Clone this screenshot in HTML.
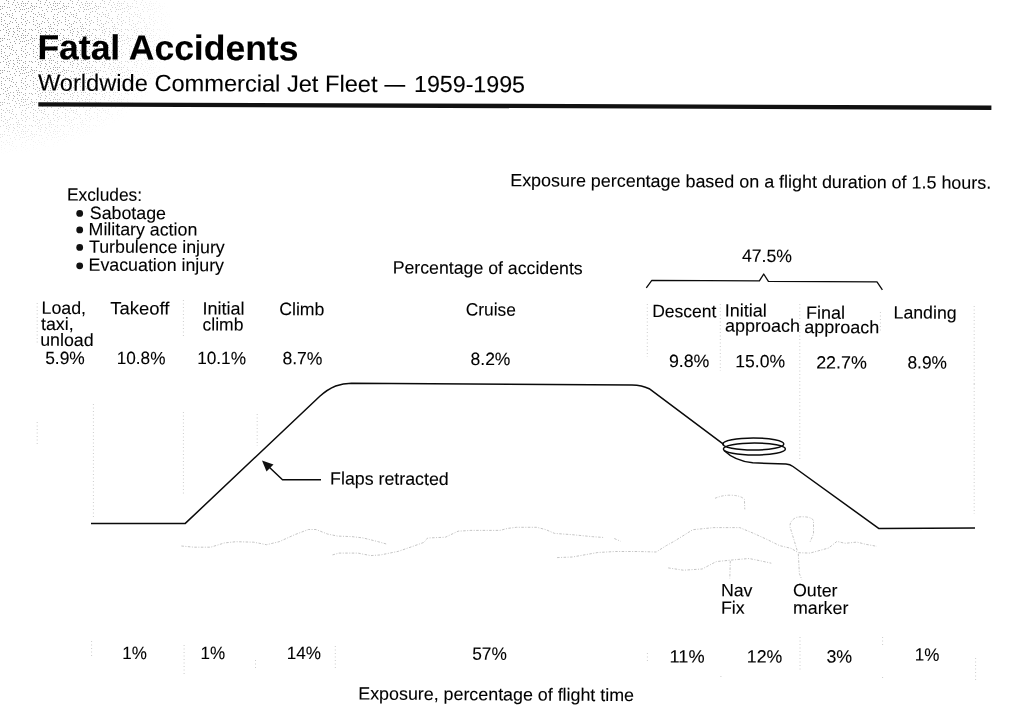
<!DOCTYPE html>
<html lang="en"><head><meta charset="utf-8"><title>Fatal Accidents</title>
<style>
html,body{margin:0;padding:0;background:#fff;}
body{width:1024px;height:726px;overflow:hidden;position:relative;}
svg{position:absolute;left:0;top:0;display:block;}
text{font-family:"Liberation Sans",Arial,Helvetica,sans-serif;fill:#000;stroke:#000;stroke-width:0.1;}
.ln{fill:none;stroke:#0a0a0a;stroke-width:1.5;stroke-linejoin:round;stroke-linecap:butt;}
.dot{fill:none;stroke:#cccccc;stroke-width:1;stroke-dasharray:1 2.5;}
.ter{fill:none;stroke:#bdbdbd;stroke-width:0.9;stroke-dasharray:2.5 1.5 1 1.5;stroke-linejoin:round;}
</style></head><body>
<svg width="1024" height="726" viewBox="0 0 1024 726">
<defs>
<pattern id="dith" width="32" height="32" patternUnits="userSpaceOnUse"><g fill="#9a9a9a"><rect x="20" y="9" width="1" height="1"/><rect x="25" y="3" width="1" height="1"/><rect x="4" y="6" width="1" height="1"/><rect x="23" y="3" width="1" height="1"/><rect x="13" y="2" width="1" height="1"/><rect x="5" y="27" width="1" height="1"/><rect x="15" y="5" width="1" height="1"/><rect x="27" y="3" width="1" height="1"/><rect x="7" y="14" width="1" height="1"/><rect x="3" y="25" width="1" height="1"/><rect x="3" y="14" width="1" height="1"/><rect x="2" y="8" width="1" height="1"/><rect x="18" y="26" width="1" height="1"/><rect x="9" y="7" width="1" height="1"/><rect x="19" y="11" width="1" height="1"/><rect x="6" y="12" width="1" height="1"/><rect x="23" y="6" width="1" height="1"/><rect x="4" y="3" width="1" height="1"/><rect x="13" y="31" width="1" height="1"/><rect x="27" y="20" width="1" height="1"/><rect x="29" y="29" width="1" height="1"/><rect x="23" y="19" width="1" height="1"/><rect x="15" y="11" width="1" height="1"/><rect x="19" y="31" width="1" height="1"/><rect x="21" y="28" width="1" height="1"/><rect x="18" y="4" width="1" height="1"/><rect x="7" y="26" width="1" height="1"/><rect x="10" y="21" width="1" height="1"/><rect x="9" y="31" width="1" height="1"/><rect x="4" y="20" width="1" height="1"/><rect x="21" y="22" width="1" height="1"/><rect x="31" y="29" width="1" height="1"/><rect x="17" y="30" width="1" height="1"/><rect x="19" y="28" width="1" height="1"/><rect x="18" y="24" width="1" height="1"/><rect x="22" y="1" width="1" height="1"/><rect x="29" y="22" width="1" height="1"/><rect x="31" y="3" width="1" height="1"/><rect x="13" y="18" width="1" height="1"/><rect x="25" y="25" width="1" height="1"/><rect x="31" y="5" width="1" height="1"/><rect x="10" y="28" width="1" height="1"/><rect x="25" y="17" width="1" height="1"/><rect x="22" y="24" width="1" height="1"/><rect x="14" y="9" width="1" height="1"/><rect x="9" y="14" width="1" height="1"/><rect x="14" y="0" width="1" height="1"/><rect x="31" y="11" width="1" height="1"/><rect x="16" y="18" width="1" height="1"/><rect x="0" y="9" width="1" height="1"/><rect x="26" y="23" width="1" height="1"/><rect x="3" y="29" width="1" height="1"/><rect x="6" y="30" width="1" height="1"/><rect x="12" y="4" width="1" height="1"/><rect x="13" y="28" width="1" height="1"/><rect x="21" y="3" width="1" height="1"/><rect x="6" y="0" width="1" height="1"/><rect x="24" y="9" width="1" height="1"/><rect x="16" y="22" width="1" height="1"/><rect x="23" y="30" width="1" height="1"/><rect x="7" y="7" width="1" height="1"/><rect x="21" y="16" width="1" height="1"/><rect x="1" y="13" width="1" height="1"/><rect x="1" y="19" width="1" height="1"/><rect x="5" y="16" width="1" height="1"/><rect x="22" y="14" width="1" height="1"/><rect x="12" y="15" width="1" height="1"/><rect x="25" y="14" width="1" height="1"/><rect x="1" y="17" width="1" height="1"/><rect x="30" y="16" width="1" height="1"/><rect x="12" y="22" width="1" height="1"/><rect x="0" y="30" width="1" height="1"/><rect x="7" y="24" width="1" height="1"/><rect x="21" y="5" width="1" height="1"/><rect x="25" y="29" width="1" height="1"/><rect x="25" y="5" width="1" height="1"/><rect x="10" y="10" width="1" height="1"/><rect x="8" y="1" width="1" height="1"/><rect x="22" y="9" width="1" height="1"/><rect x="0" y="6" width="1" height="1"/><rect x="12" y="13" width="1" height="1"/><rect x="15" y="20" width="1" height="1"/><rect x="16" y="26" width="1" height="1"/><rect x="8" y="3" width="1" height="1"/><rect x="26" y="8" width="1" height="1"/><rect x="28" y="11" width="1" height="1"/><rect x="30" y="7" width="1" height="1"/><rect x="2" y="6" width="1" height="1"/><rect x="28" y="1" width="1" height="1"/><rect x="17" y="28" width="1" height="1"/><rect x="28" y="8" width="1" height="1"/><rect x="19" y="7" width="1" height="1"/><rect x="9" y="23" width="1" height="1"/><rect x="9" y="16" width="1" height="1"/><rect x="8" y="29" width="1" height="1"/><rect x="25" y="31" width="1" height="1"/><rect x="25" y="21" width="1" height="1"/><rect x="26" y="12" width="1" height="1"/><rect x="5" y="23" width="1" height="1"/><rect x="1" y="21" width="1" height="1"/><rect x="1" y="24" width="1" height="1"/><rect x="21" y="18" width="1" height="1"/><rect x="17" y="2" width="1" height="1"/><rect x="11" y="17" width="1" height="1"/><rect x="16" y="7" width="1" height="1"/></g></pattern>
<radialGradient id="fade" cx="0" cy="0" r="1" gradientUnits="userSpaceOnUse" gradientTransform="translate(-10 35) scale(185 120)">
<stop offset="0" stop-color="#fff"/><stop offset="0.45" stop-color="#ddd"/><stop offset="0.8" stop-color="#555"/><stop offset="1" stop-color="#000"/>
</radialGradient>
<mask id="fm" maskUnits="userSpaceOnUse" x="0" y="0" width="220" height="170"><rect x="0" y="0" width="220" height="170" fill="url(#fade)"/></mask>
</defs>
<rect x="0" y="0" width="220" height="170" fill="url(#dith)" mask="url(#fm)"/>

<polygon points="38.3,102.2 991.4,105.5 991.4,109.9 38.3,106.4" fill="#111"/>
<circle cx="79.7" cy="213.4" r="3.4" fill="#111"/>
<circle cx="79.7" cy="229.9" r="3.4" fill="#111"/>
<circle cx="79.7" cy="247.4" r="3.4" fill="#111"/>
<circle cx="79.7" cy="265.8" r="3.4" fill="#111"/>
<line class="dot" x1="37.2" y1="303" x2="37.2" y2="345"/>
<line class="dot" x1="37.2" y1="422" x2="37.2" y2="444"/>
<line class="dot" x1="93.4" y1="404" x2="93.4" y2="518"/>
<line class="dot" x1="183.4" y1="300" x2="183.4" y2="336"/>
<line class="dot" x1="183.4" y1="412" x2="183.4" y2="495"/>
<line class="dot" x1="257.2" y1="414" x2="257.2" y2="446"/>
<line class="dot" x1="647.3" y1="304" x2="647.3" y2="357"/>
<line class="dot" x1="720.3" y1="304" x2="720.3" y2="371"/>
<line class="dot" x1="799.8" y1="304" x2="799.8" y2="460"/>
<line class="dot" x1="880.4" y1="312" x2="880.4" y2="333"/>
<line class="dot" x1="974.2" y1="306" x2="974.2" y2="384"/>
<line class="dot" x1="974.2" y1="384" x2="974.2" y2="514"/>
<line class="dot" x1="91.6" y1="641" x2="91.6" y2="656"/>
<line class="dot" x1="184.1" y1="645" x2="184.1" y2="676"/>
<line class="dot" x1="255.5" y1="660" x2="255.5" y2="670"/>
<line class="dot" x1="335.3" y1="646" x2="335.3" y2="669"/>
<line class="dot" x1="647.4" y1="653" x2="647.4" y2="663"/>
<line class="dot" x1="720.9" y1="676" x2="720.9" y2="679"/>
<line class="dot" x1="800" y1="637" x2="800" y2="672"/>
<line class="dot" x1="882.6" y1="637" x2="882.6" y2="646"/>
<line class="dot" x1="882.6" y1="677" x2="882.6" y2="680"/>
<line class="dot" x1="975.6" y1="658" x2="975.6" y2="681"/>
<path class="ter" d="M181.4 546 L194.1 547.2 L210.6 547.2 L224.6 542.9 L236 541.7 L253.8 542.2 L266.5 544.7 L279.2 541.7 L294.4 534.8 L308.4 529.5 L316 529.5 L327.4 534 L337.6 536.1 L351.6 536.6 L363 537.9 L378.2 541.7 L387.1 544.2"/>
<path class="ter" d="M332.5 554.9 L338.9 553.1 L357.9 553.1 L370.6 555.6 L380.8 554.9 L398.5 551.3 L413.8 546 L423.9 542.4 L427.6 538 L445.4 537.2 L458.1 531.2 L470.8 530.4 L500 530.4 L507.6 528.4 L516.5 527.3 L536.8 527.3 L545.7 529.6 L554.6 533.4 L572.4 534.7 L592.7 536.7 L604.1 537.5"/>
<path class="ter" d="M614.3 538.5 L620.6 541.3"/>
<path class="ter" d="M557.1 557.6 L572.4 557 L597.8 552.5 L615.5 551.5 L638.4 551.5 L656.2 552 L666.3 545.6 L674 541.4 L692.8 529.7 L713.9 527.6 L739.7 527.6 L753.7 533.4 L767.8 539.8 L779.5 545.6 L791.2 548.4 L798.3 552.7 L810 553.1 L828.7 548 L836.9 541.4 L845.1 543.3 L856.9 542.1 L866.2 544.4 L876.8 546.3"/>
<path class="ter" d="M668.2 567.9 L683.4 570.2 L702.2 569 L716.2 561.6 L735 559.7 L749 558.5 L760.8 560.9 L771.3 563.2"/>
<path class="ter" d="M715 498.3 Q722 495.2 730 495.2 Q740 495.2 744.4 499.2 L744.8 509.3"/>
<path class="ter" d="M730.3 560.9 L729.8 578.4"/>
<path class="ter" d="M798.3 553.8 L799.4 573.7 L801.8 579.6"/>
<path class="ter" d="M797.1 550.3 L793.6 538.6 L790 526.9 Q789.5 521 796 517.5 Q801 516.3 806.5 517 Q813 518 813.5 521 L813.5 533.9 L810 542.1"/>
<path class="ln" d="M91 523.4 L185.3 523.4 L319.8 396.3 Q327.5 389.3 335.7 386 Q343 383.4 351.5 383.2 L632 385 Q642 385.3 649.2 388.7 L724 444.6"/>
<ellipse class="ln" cx="753.3" cy="444" rx="30.5" ry="6"/>
<ellipse class="ln" cx="754.4" cy="449" rx="31" ry="6"/>
<path class="ln" d="M724 450.5 Q735 461 752.7 462.8 L786 464 Q790 464.3 793 466.5 L879 528.6 L975 528"/>
<path class="ln" d="M321 479.7 L282.5 479.7 L268 466"/>
<polygon points="262,460.6 273.5,464.5 266.5,471.5" fill="#111"/>
<path class="ln" style="stroke-width:1.3" d="M646.3 287.8 L651.8 280.4 L759.4 280.8 L763.7 274 L768.4 281.3 L877 281.8 L882.4 289.8"/>
<text x="37.4" y="59.2" font-size="35" font-weight="bold" textLength="261" lengthAdjust="spacingAndGlyphs" transform="rotate(0.23 37.4 59.2)">Fatal Accidents</text>
<text x="38" y="90.6" font-size="23.4" textLength="339.5" lengthAdjust="spacingAndGlyphs" transform="rotate(0.23 38 90.6)">Worldwide Commercial Jet Fleet</text>
<text x="384.6" y="91.8" font-size="23.4" textLength="20.6" lengthAdjust="spacingAndGlyphs" transform="rotate(0.23 384.6 91.8)">—</text>
<text x="414" y="92.0" font-size="23.4" textLength="111" lengthAdjust="spacingAndGlyphs" transform="rotate(0.23 414 92.0)">1959-1995</text>
<text x="510.2" y="186.2" font-size="17.8" textLength="481" lengthAdjust="spacingAndGlyphs" transform="rotate(0.32 510.2 186.2)">Exposure percentage based on a flight duration of 1.5 hours.</text>
<text x="67" y="200.6" font-size="17.8" textLength="75" lengthAdjust="spacingAndGlyphs" transform="rotate(0.23 67 200.6)">Excludes:</text>
<text x="89.8" y="218.9" font-size="17.8" transform="rotate(0.23 89.8 218.9)">Sabotage</text>
<text x="88.6" y="235.2" font-size="17.8" transform="rotate(0.23 88.6 235.2)">Military action</text>
<text x="89" y="252.7" font-size="17.8" transform="rotate(0.23 89 252.7)">Turbulence injury</text>
<text x="88.6" y="270.7" font-size="17.8" transform="rotate(0.23 88.6 270.7)">Evacuation injury</text>
<text x="392.7" y="273.5" font-size="17.8" textLength="190" lengthAdjust="spacingAndGlyphs" transform="rotate(0.23 392.7 273.5)">Percentage of accidents</text>
<text x="742" y="261.8" font-size="17.8" textLength="50" lengthAdjust="spacingAndGlyphs" transform="rotate(0.23 742 261.8)">47.5%</text>
<text x="41.5" y="313.8" font-size="17.8" transform="rotate(0.23 41.5 313.8)">Load,</text>
<text x="41" y="330.0" font-size="17.8" transform="rotate(0.23 41 330.0)">taxi,</text>
<text x="40.2" y="345.8" font-size="17.8" transform="rotate(0.23 40.2 345.8)">unload</text>
<text x="110.3" y="314.3" font-size="17.8" textLength="59" lengthAdjust="spacingAndGlyphs" transform="rotate(0.23 110.3 314.3)">Takeoff</text>
<text x="202.4" y="314.5" font-size="17.8" textLength="42" lengthAdjust="spacingAndGlyphs" transform="rotate(0.23 202.4 314.5)">Initial</text>
<text x="202.6" y="330.5" font-size="17.8" textLength="40.8" lengthAdjust="spacingAndGlyphs" transform="rotate(0.23 202.6 330.5)">climb</text>
<text x="279.2" y="315.1" font-size="17.8" textLength="45.2" lengthAdjust="spacingAndGlyphs" transform="rotate(0.23 279.2 315.1)">Climb</text>
<text x="465.8" y="315.5" font-size="17.8" textLength="50" lengthAdjust="spacingAndGlyphs" transform="rotate(0.23 465.8 315.5)">Cruise</text>
<text x="652.2" y="317.1" font-size="17.8" textLength="64.3" lengthAdjust="spacingAndGlyphs" transform="rotate(0.23 652.2 317.1)">Descent</text>
<text x="724.7" y="316.5" font-size="17.8" textLength="42" lengthAdjust="spacingAndGlyphs" transform="rotate(0.23 724.7 316.5)">Initial</text>
<text x="725.0" y="331.6" font-size="17.8" textLength="75" lengthAdjust="spacingAndGlyphs" transform="rotate(0.23 725.0 331.6)">approach</text>
<text x="806" y="318.7" font-size="17.8" textLength="39" lengthAdjust="spacingAndGlyphs" transform="rotate(0.23 806 318.7)">Final</text>
<text x="804.2" y="333" font-size="17.8" textLength="75" lengthAdjust="spacingAndGlyphs" transform="rotate(0.23 804.2 333)">approach</text>
<text x="893.6" y="318.5" font-size="17.8" textLength="63" lengthAdjust="spacingAndGlyphs" transform="rotate(0.23 893.6 318.5)">Landing</text>
<text x="45.2" y="364" font-size="17.8" textLength="39.6" lengthAdjust="spacingAndGlyphs" transform="rotate(0.23 45.2 364)">5.9%</text>
<text x="116.8" y="364" font-size="17.8" textLength="48.6" lengthAdjust="spacingAndGlyphs" transform="rotate(0.23 116.8 364)">10.8%</text>
<text x="197.2" y="364" font-size="17.8" textLength="48.8" lengthAdjust="spacingAndGlyphs" transform="rotate(0.23 197.2 364)">10.1%</text>
<text x="282.4" y="364.3" font-size="17.8" textLength="40" lengthAdjust="spacingAndGlyphs" transform="rotate(0.23 282.4 364.3)">8.7%</text>
<text x="470.6" y="365" font-size="17.8" textLength="39.8" lengthAdjust="spacingAndGlyphs" transform="rotate(0.23 470.6 365)">8.2%</text>
<text x="668.9" y="366.9" font-size="17.8" textLength="40.4" lengthAdjust="spacingAndGlyphs" transform="rotate(0.23 668.9 366.9)">9.8%</text>
<text x="735.3" y="367.2" font-size="17.8" textLength="49.7" lengthAdjust="spacingAndGlyphs" transform="rotate(0.23 735.3 367.2)">15.0%</text>
<text x="816.2" y="368.4" font-size="17.8" textLength="50.6" lengthAdjust="spacingAndGlyphs" transform="rotate(0.23 816.2 368.4)">22.7%</text>
<text x="907.5" y="368.4" font-size="17.8" textLength="39.4" lengthAdjust="spacingAndGlyphs" transform="rotate(0.23 907.5 368.4)">8.9%</text>
<text x="330.1" y="484.5" font-size="17.8" transform="rotate(0.23 330.1 484.5)">Flaps retracted</text>
<text x="720.9" y="596.3" font-size="17.8" transform="rotate(0.23 720.9 596.3)">Nav</text>
<text x="720.9" y="613.8" font-size="17.8" transform="rotate(0.23 720.9 613.8)">Fix</text>
<text x="793" y="596.3" font-size="17.8" transform="rotate(0.23 793 596.3)">Outer</text>
<text x="793" y="613.8" font-size="17.8" transform="rotate(0.23 793 613.8)">marker</text>
<text x="122.3" y="659" font-size="17.8" textLength="24.6" lengthAdjust="spacingAndGlyphs" transform="rotate(0.23 122.3 659)">1%</text>
<text x="200.6" y="659" font-size="17.8" textLength="24.6" lengthAdjust="spacingAndGlyphs" transform="rotate(0.23 200.6 659)">1%</text>
<text x="286.8" y="659" font-size="17.8" textLength="34.2" lengthAdjust="spacingAndGlyphs" transform="rotate(0.23 286.8 659)">14%</text>
<text x="472.2" y="659.8" font-size="17.8" textLength="34.6" lengthAdjust="spacingAndGlyphs" transform="rotate(0.23 472.2 659.8)">57%</text>
<text x="669.6" y="662.4" font-size="17.8" textLength="35" lengthAdjust="spacingAndGlyphs" transform="rotate(0.23 669.6 662.4)">11%</text>
<text x="746.8" y="662.4" font-size="17.8" textLength="35.4" lengthAdjust="spacingAndGlyphs" transform="rotate(0.23 746.8 662.4)">12%</text>
<text x="826.4" y="662.4" font-size="17.8" transform="rotate(0.23 826.4 662.4)">3%</text>
<text x="914.8" y="660.6" font-size="17.8" textLength="24.6" lengthAdjust="spacingAndGlyphs" transform="rotate(0.23 914.8 660.6)">1%</text>
<text x="358.3" y="699.5" font-size="17.8" textLength="275.7" lengthAdjust="spacingAndGlyphs" transform="rotate(0.35 358.3 699.5)">Exposure, percentage of flight time</text>
</svg></body></html>
